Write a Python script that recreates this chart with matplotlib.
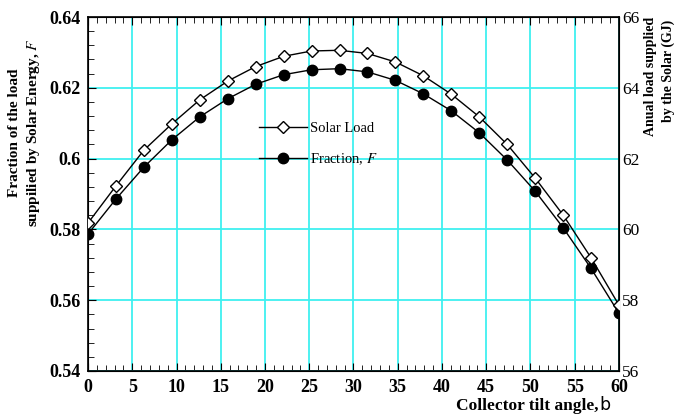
import numpy as np
import matplotlib.pyplot as plt
from matplotlib.ticker import MultipleLocator

# tilt angles (20 points, 0..60)
angulo = [0.0, 3.16, 6.32, 9.47, 12.63, 15.79, 18.95, 22.11, 25.26, 28.42,
          31.58, 34.74, 37.89, 41.05, 44.21, 47.37, 50.53, 53.68, 56.84, 60.0]
fracao = [0.5787, 0.5886, 0.5976, 0.6053, 0.6118, 0.6169, 0.6210, 0.6237, 0.6251, 0.6254,
          0.6245, 0.6221, 0.6183, 0.6135, 0.6073, 0.5996, 0.5908, 0.5805, 0.5690, 0.5563]
carga = [60.18, 61.23, 62.24, 62.98, 63.66, 64.19, 64.60, 64.89, 65.04, 65.06,
         64.97, 64.73, 64.34, 63.82, 63.18, 62.40, 61.45, 60.41, 59.20, 57.86]

plt.rcParams['font.family'] = 'Liberation Serif'
plt.rcParams['mathtext.fontset'] = 'stix'

fig = plt.figure(figsize=(6.75, 4.2), dpi=100)
ax = fig.add_axes([0.1304, 0.1167, 0.7866, 0.8428])
ax2 = ax.twinx()

ax.set_xlim(0, 60)
ax.set_ylim(0.54, 0.64)
ax2.set_ylim(56, 66)

ax.xaxis.set_major_locator(MultipleLocator(5))
ax.xaxis.set_minor_locator(MultipleLocator(1))
ax.yaxis.set_major_locator(MultipleLocator(0.02))
ax.yaxis.set_minor_locator(MultipleLocator(0.004))
ax2.yaxis.set_major_locator(MultipleLocator(2))

ax.grid(True, which='major', color='#3ff0f0', lw=1.3)
ax.set_axisbelow(True)

ax.tick_params(which='both', direction='in', top=True, right=False)
ax.tick_params(which='major', length=6, labelsize=13)
ax.tick_params(which='minor', length=4)
ax.tick_params(axis='x', which='major', pad=6)
ax.tick_params(axis='y', which='major', pad=5)
ax2.tick_params(which='both', direction='in', length=0, labelsize=12.5, pad=2)

ax.set_xticks(np.arange(0, 61, 5))
ax.set_xticklabels([str(v) for v in range(0, 61, 5)], fontweight='bold')
yt = [0.54, 0.56, 0.58, 0.6, 0.62, 0.64]
ax.set_yticks(yt)
ax.set_yticklabels(['0.54', '0.56', '0.58', '0.6', '0.62', '0.64'], fontweight='bold')

l1, = ax2.plot(angulo, carga, color='black', lw=1, marker='D', ms=6.5,
               mfc='white', mec='black', mew=1, label='Solar Load', zorder=5)
l2, = ax.plot(angulo, fracao, color='black', lw=1, marker='o', ms=7.5,
              mfc='black', mec='black', label='Fraction, $\\mathit{F}$', zorder=5)
for sp in ax.spines.values():
    sp.set_linewidth(1.2)

ax.legend([l1, l2], ['Solar Load', 'Fraction, $\\mathit{F}$'], loc='upper left',
          bbox_to_anchor=(0.297, 0.741), frameon=False, fontsize=10.5,
          handlelength=3.3, labelspacing=1.1, handletextpad=0.2)

# y labels placed by hand (both sit high, not centred on the axis)
fig.text(0.022, 0.685, 'Fraction of the load', rotation=90, fontsize=11,
         fontweight='bold', ha='center', va='center')
fig.text(0.049, 0.685, 'suppilied by Solar Energy, $\\mathbf{\\mathit{F}}$', rotation=90,
         fontsize=11, fontweight='bold', ha='center', va='center')
fig.text(0.963, 0.96, 'Anual load supplied', rotation=90, fontsize=10,
         fontweight='bold', ha='center', va='top')
fig.text(0.99, 0.953, 'by the Solar (GJ)', rotation=90, fontsize=10,
         fontweight='bold', ha='center', va='top')

fig.text(0.886, 0.024, 'Collector tilt angle,', fontsize=12.5, fontweight='bold',
         ha='right', va='baseline')
fig.text(0.888, 0.024, 'b', fontsize=12.5, family='DejaVu Sans', ha='left', va='baseline')

fig.savefig('out.png', dpi=100)
